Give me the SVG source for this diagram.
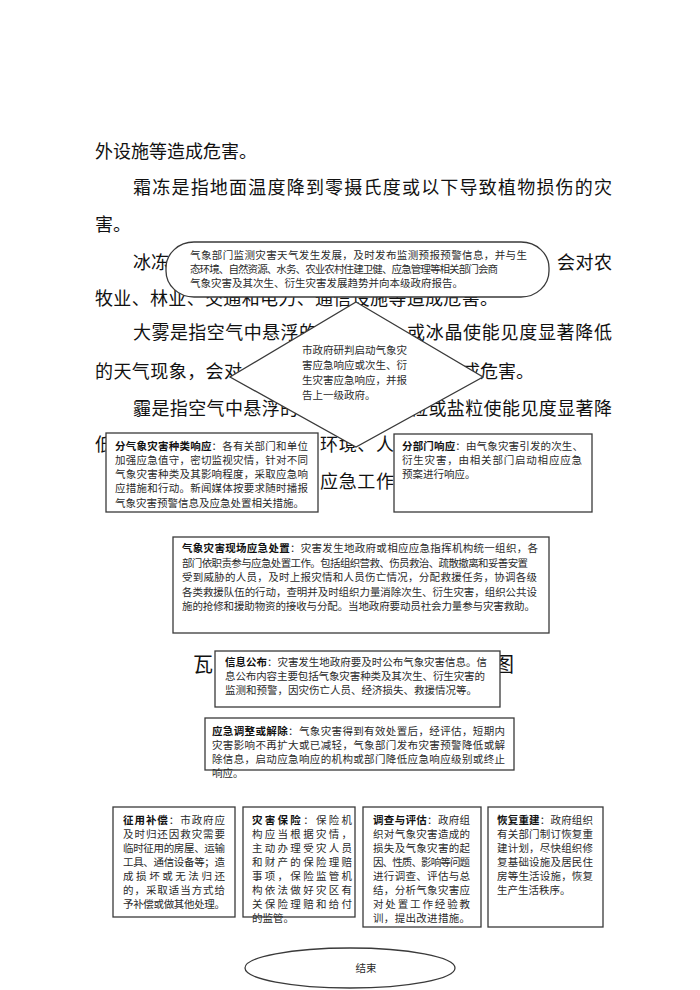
<svg xmlns="http://www.w3.org/2000/svg" width="700" height="990" viewBox="0 0 700 990">
<style>
text{font-family:"Liberation Sans","Noto Sans CJK SC",sans-serif}
.bg{font-size:18px;fill:#111}
.ttl{font-size:20px;fill:#111}
.t{font-size:10.5px;fill:#2a2a2a}
.b{font-weight:bold;fill:#111}
.shape{fill:#fff;stroke:#3a3a3a;stroke-width:1.3}
</style>
<rect width="700" height="990" fill="#fff"/>
<g id="background-text">
<text class="bg" x="95" y="158">外设施等造成危害。</text>
<text class="bg" x="133" y="194" textLength="479" lengthAdjust="spacing">霜冻是指地面温度降到零摄氏度或以下导致植物损伤的灾</text>
<text class="bg" x="95" y="231">害。</text>
<text class="bg" x="133" y="269">冰冻</text>
<text class="bg" x="557" y="269" textLength="55" lengthAdjust="spacing">会对农</text>
<text class="bg" x="95" y="305" textLength="403" lengthAdjust="spacing">牧业、林业、交通和电力、通信设施等造成危害。</text>
<text class="bg" x="133" y="339" textLength="184" lengthAdjust="spacing">大雾是指空气中悬浮的</text>
<text class="bg" x="407" y="339" textLength="205" lengthAdjust="spacing">或冰晶使能见度显著降低</text>
<text class="bg" x="95" y="378" textLength="147" lengthAdjust="spacing">的天气现象，会对</text>
<text class="bg" x="462" y="378" textLength="72" lengthAdjust="spacing">成危害。</text>
<text class="bg" x="133" y="415" textLength="165" lengthAdjust="spacing">霾是指空气中悬浮的</text>
<text class="bg" x="410" y="415" textLength="202" lengthAdjust="spacing">粒或盐粒使能见度显著降</text>
<text class="bg" x="95" y="451">低</text>
<text class="bg" x="320" y="451" textLength="74" lengthAdjust="spacing">环境、人</text>
<text class="bg" x="320" y="488" textLength="74" lengthAdjust="spacing">应急工作</text>
<text class="ttl" x="193" y="672">瓦</text>
<text class="ttl" x="494" y="672">图</text>
</g>
<g id="connectors"></g>
<g id="n-diamond">
<polygon class="shape" points="356,302 483,377 356,447 230,377"/>
<text class="t" x="302" y="354">市政府研判启动气象灾</text>
<text class="t" x="302" y="369">害应急响应或次生、衍</text>
<text class="t" x="302" y="384">生灾害应急响应，并报</text>
<text class="t" x="302" y="399">告上一级政府。</text>
</g>
<g id="n-monitor">
<rect class="shape" x="166" y="242" width="383" height="55" rx="28" ry="26"/>
<text class="t" x="190" y="259" textLength="337" lengthAdjust="spacing">气象部门监测灾害天气发生发展，及时发布监测预报预警信息，并与生</text>
<text class="t" x="190" y="273" textLength="308" lengthAdjust="spacing">态环境、自然资源、水务、农业农村住建卫健、应急管理等相关部门会商</text>
<text class="t" x="190" y="287">气象灾害及其次生、衍生灾害发展趋势并向本级政府报告。</text>
</g>
<g id="n-type-response">
<rect class="shape" x="106" y="433" width="212" height="79"/>
<text class="t" x="115" y="450" textLength="193" lengthAdjust="spacing"><tspan class="b">分气象灾害种类响应</tspan>：各有关部门和单位</text>
<text class="t" x="115" y="464" textLength="193" lengthAdjust="spacing">加强应急值守，密切监视灾情，针对不同</text>
<text class="t" x="115" y="478" textLength="193" lengthAdjust="spacing">气象灾害种类及其影响程度，采取应急响</text>
<text class="t" x="115" y="492" textLength="193" lengthAdjust="spacing">应措施和行动。新闻媒体按要求随时播报</text>
<text class="t" x="115" y="507">气象灾害预警信息及应急处置相关措施。</text>
</g>
<g id="n-dept-response">
<rect class="shape" x="394" y="434" width="198" height="78"/>
<text class="t" x="402" y="450" textLength="181" lengthAdjust="spacing"><tspan class="b">分部门响应</tspan>：由气象灾害引发的次生、</text>
<text class="t" x="402" y="464" textLength="180" lengthAdjust="spacing">衍生灾害，由相关部门启动相应应急</text>
<text class="t" x="402" y="478">预案进行响应。</text>
</g>
<g id="n-onsite">
<rect class="shape" x="173" y="537" width="376" height="96"/>
<text class="t" x="182" y="552" textLength="356" lengthAdjust="spacing"><tspan class="b">气象灾害现场应急处置</tspan>：灾害发生地政府或相应应急指挥机构统一组织，各</text>
<text class="t" x="182" y="567" textLength="346" lengthAdjust="spacing">部门依职责参与应急处置工作。包括组织营救、伤员救治、疏散撤离和妥善安置</text>
<text class="t" x="182" y="581" textLength="355" lengthAdjust="spacing">受到威胁的人员，及时上报灾情和人员伤亡情况，分配救援任务，协调各级</text>
<text class="t" x="182" y="596" textLength="355" lengthAdjust="spacing">各类救援队伍的行动，查明并及时组织力量消除次生、衍生灾害，组织公共设</text>
<text class="t" x="182" y="610" textLength="353" lengthAdjust="spacing">施的抢修和援助物资的接收与分配。当地政府要动员社会力量参与灾害救助。</text>
</g>
<g id="n-info">
<rect class="shape" x="215" y="651" width="285" height="56"/>
<text class="t" x="225" y="666" textLength="262" lengthAdjust="spacing"><tspan class="b">信息公布</tspan>：灾害发生地政府要及时公布气象灾害信息。信</text>
<text class="t" x="225" y="680" textLength="260" lengthAdjust="spacing">息公布内容主要包括气象灾害种类及其次生、衍生灾害的</text>
<text class="t" x="225" y="694">监测和预警，因灾伤亡人员、经济损失、救援情况等。</text>
</g>
<g id="n-adjust">
<rect class="shape" x="205" y="718" width="309" height="52"/>
<text class="t" x="212" y="735" textLength="293" lengthAdjust="spacing"><tspan class="b">应急调整或解除</tspan>：气象灾害得到有效处置后，经评估，短期内</text>
<text class="t" x="212" y="749" textLength="293" lengthAdjust="spacing">灾害影响不再扩大或已减轻，气象部门发布灾害预警降低或解</text>
<text class="t" x="212" y="763" textLength="293" lengthAdjust="spacing">除信息，启动应急响应的机构或部门降低应急响应级别或终止</text>
<text class="t" x="212" y="777">响应。</text>
</g>
<g id="n-compensation">
<rect class="shape" x="113" y="807" width="122" height="110"/>
<text class="t" x="123" y="824" textLength="102" lengthAdjust="spacing"><tspan class="b">征用补偿</tspan>：市政府应</text>
<text class="t" x="123" y="838" textLength="102" lengthAdjust="spacing">及时归还因救灾需要</text>
<text class="t" x="123" y="852" textLength="102" lengthAdjust="spacing">临时征用的房屋、运输</text>
<text class="t" x="123" y="866" textLength="102" lengthAdjust="spacing">工具、通信设备等；造</text>
<text class="t" x="123" y="880" textLength="102" lengthAdjust="spacing">成损坏或无法归还</text>
<text class="t" x="123" y="894" textLength="102" lengthAdjust="spacing">的，采取适当方式给</text>
<text class="t" x="123" y="908" textLength="102" lengthAdjust="spacing">予补偿或做其他处理。</text>
</g>
<g id="n-insurance">
<rect class="shape" x="243" y="807" width="112" height="110"/>
<text class="t" x="252" y="824" textLength="100" lengthAdjust="spacing"><tspan class="b">灾害保险</tspan>：保险机</text>
<text class="t" x="252" y="838" textLength="100" lengthAdjust="spacing">构应当根据灾情，</text>
<text class="t" x="252" y="852" textLength="100" lengthAdjust="spacing">主动办理受灾人员</text>
<text class="t" x="252" y="866" textLength="100" lengthAdjust="spacing">和财产的保险理赔</text>
<text class="t" x="252" y="880" textLength="100" lengthAdjust="spacing">事项，保险监管机</text>
<text class="t" x="252" y="894" textLength="100" lengthAdjust="spacing">构依法做好灾区有</text>
<text class="t" x="252" y="908" textLength="100" lengthAdjust="spacing">关保险理赔和给付</text>
<text class="t" x="252" y="922">的监管。</text>
</g>
<g id="n-investigation">
<rect class="shape" x="363" y="807" width="118" height="120"/>
<text class="t" x="373" y="824" textLength="97" lengthAdjust="spacing"><tspan class="b">调查与评估</tspan>：政府组</text>
<text class="t" x="373" y="838" textLength="97" lengthAdjust="spacing">织对气象灾害造成的</text>
<text class="t" x="373" y="852" textLength="97" lengthAdjust="spacing">损失及气象灾害的起</text>
<text class="t" x="373" y="866" textLength="97" lengthAdjust="spacing">因、性质、影响等问题</text>
<text class="t" x="373" y="880" textLength="97" lengthAdjust="spacing">进行调查、评估与总</text>
<text class="t" x="373" y="894" textLength="97" lengthAdjust="spacing">结，分析气象灾害应</text>
<text class="t" x="373" y="908" textLength="97" lengthAdjust="spacing">对处置工作经验教</text>
<text class="t" x="373" y="922" textLength="97" lengthAdjust="spacing">训，提出改进措施。</text>
</g>
<g id="n-rebuild">
<rect class="shape" x="488" y="807" width="115" height="120"/>
<text class="t" x="497" y="824" textLength="96" lengthAdjust="spacing"><tspan class="b">恢复重建</tspan>：政府组织</text>
<text class="t" x="497" y="838" textLength="96" lengthAdjust="spacing">有关部门制订恢复重</text>
<text class="t" x="497" y="852" textLength="96" lengthAdjust="spacing">建计划，尽快组织修</text>
<text class="t" x="497" y="866" textLength="96" lengthAdjust="spacing">复基础设施及居民住</text>
<text class="t" x="497" y="880" textLength="96" lengthAdjust="spacing">房等生活设施，恢复</text>
<text class="t" x="497" y="894">生产生活秩序。</text>
</g>
<g id="n-end">
<ellipse class="shape" cx="350" cy="968" rx="105" ry="20"/>
<text class="t" x="366" y="972" text-anchor="middle" font-size="11">结束</text>
</g>
</svg>
